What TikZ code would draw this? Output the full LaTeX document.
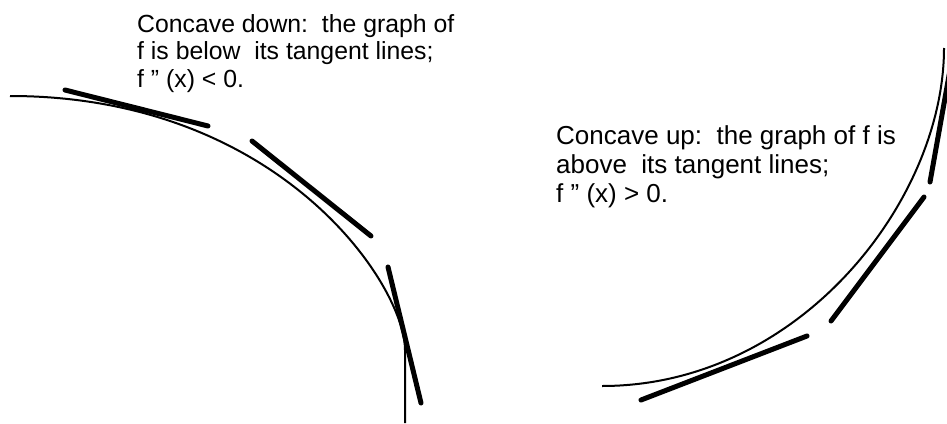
\documentclass[tikz,border=0pt]{standalone}
\usepackage{fontspec}
\setmainfont{Liberation Sans}
\usetikzlibrary{positioning}

\begin{document}
\begin{tikzpicture}[
    x=1pt, y=-1pt,
    graph/.style={line width=2pt},
    tangent/.style={line width=5pt, line cap=round},
    caption/.style={align=left, inner sep=0pt, anchor=base west,
                    font=\fontsize{25.5}{28.5}\selectfont},
  ]
  \useasboundingbox (0,0) rectangle (947,423);

  % Concave down: curve and its tangent lines
  \draw[graph] (10,96) .. controls (280,96) and (405,285) .. (405,350) -- (405,423);
  \draw[tangent] (65,90) -- (208,126);
  \draw[tangent] (252,141) -- (371,236);
  \draw[tangent] (388,267) -- (421,403);

  % Concave up: curve and its tangent lines
  \draw[graph] (602,386) .. controls (800,386) and (944,200) .. (944,48);
  \draw[tangent] (641,400) -- (807,336);
  \draw[tangent] (831,321) -- (924,197);
  \draw[tangent] (930,182) -- (950,70);

  % Labels (anchored at the baseline of the last line)
  \node[caption, font=\fontsize{24.8}{27.5}\selectfont] (downtext) at (137,87)
       {Concave down:\ \ the graph of\\f is below\ \ its tangent lines;\\f '' (x) < 0.};
  \node[caption, font=\fontsize{26}{29}\selectfont] (uptext) at (556,202)
       {Concave up:\ \ the graph of f is\\above\ \ its tangent lines;\\f '' (x) > 0.};
\end{tikzpicture}
\end{document}
